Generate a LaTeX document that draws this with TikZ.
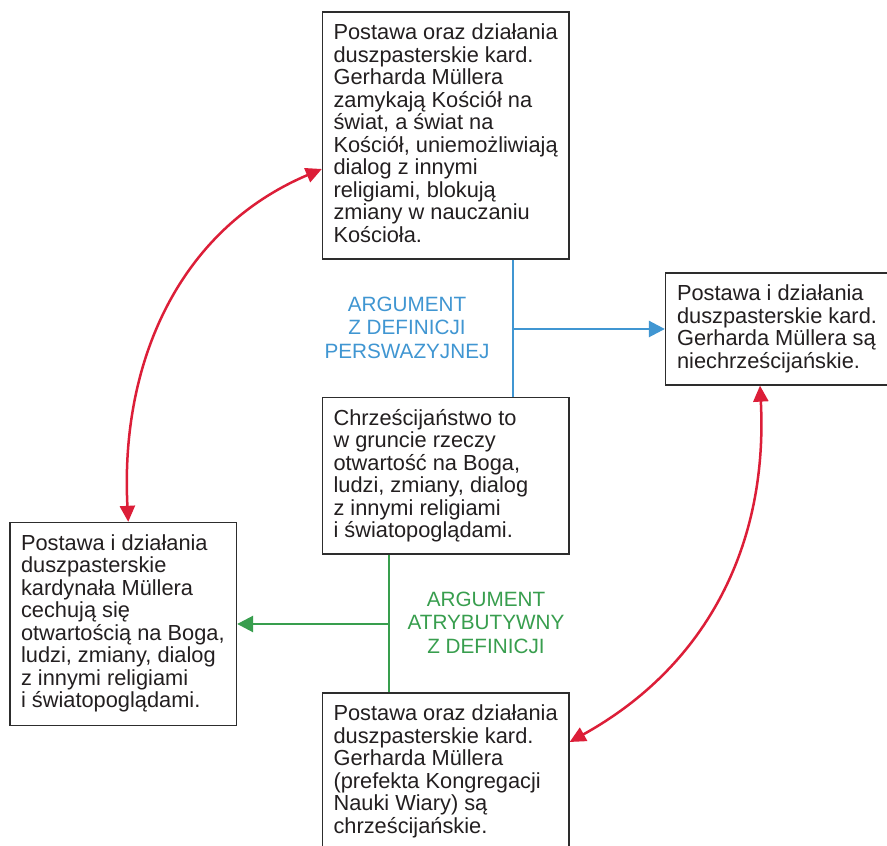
\documentclass[tikz,border=0pt]{standalone}
\usepackage{fontspec}
\setmainfont{Liberation Sans}
\usetikzlibrary{arrows.meta,calc}
\definecolor{cblue}{RGB}{64,150,210}
\definecolor{cgreen}{RGB}{56,158,78}
\definecolor{cred}{RGB}{220,30,56}
\definecolor{ctext}{RGB}{35,31,32}
\definecolor{cbox}{RGB}{45,45,45}
\begin{document}
\begin{tikzpicture}[x=1pt,y=1pt,
  boxnode/.style={draw=cbox,line width=1.3pt,inner sep=0pt},
  txt/.style={anchor=north west,inner sep=0pt,align=left,text=ctext,font=\fontsize{21.8}{22.5}\selectfont},
  lbl/.style={anchor=north,inner sep=0pt,align=center,font=\fontsize{20.7}{23.7}\selectfont},
  bluelink/.style={draw=cblue,line width=2.6pt},
  greenlink/.style={draw=cgreen,line width=2.6pt},
  redlink/.style={draw=cred,line width=2.5pt,{Triangle[length=16pt,width=15pt]}-{Triangle[length=16pt,width=15pt]}},
  tip/.style={-{Triangle[length=16pt,width=16pt]}}
]
\useasboundingbox (0,0) rectangle (887,846);
\fill[white] (0,0) rectangle (887,846);
\clip (0,0) rectangle (887,846);

% boxes
\node[boxnode,minimum width=246.5pt,minimum height=247pt] (top) at (445.75,710.5) {};
\node[boxnode,minimum width=234.5pt,minimum height=112pt] (right) at (782.75,517) {};
\node[boxnode,minimum width=246.5pt,minimum height=156.5pt] (mid) at (445.75,370.25) {};
\node[boxnode,minimum width=226.5pt,minimum height=203pt] (left) at (123.25,222) {};
\node[boxnode,minimum width=246.5pt,minimum height=177pt] (bot) at (445.75,64.5) {};

% texts
\node[txt] (toptxt) at ([shift={(11.5,-11)}]top.north west) {\rule{0pt}{17pt}Postawa oraz działania\\duszpasterskie kard.\\Gerharda Müllera\\zamykają Kościół na\\świat, a świat na\\Kościół, uniemożliwiają\\dialog z innymi\\religiami, blokują\\zmiany w nauczaniu\\Kościoła.};
\node[txt] (righttxt) at ([shift={(12,-11)}]right.north west) {\rule{0pt}{17pt}Postawa i działania\\duszpasterskie kard.\\Gerharda Müllera są\\niechrześcijańskie.};
\node[txt] (midtxt) at ([shift={(11.5,-11)}]mid.north west) {\rule{0pt}{17pt}Chrześcijaństwo to\\w gruncie rzeczy\\otwartość na Boga,\\ludzi, zmiany, dialog\\z innymi religiami\\i światopoglądami.};
\node[txt] (lefttxt) at ([shift={(11.5,-11)}]left.north west) {\rule{0pt}{17pt}Postawa i działania\\duszpasterskie\\kardynała Müllera\\cechują się\\otwartością na Boga,\\ludzi, zmiany, dialog\\z innymi religiami\\i światopoglądami.};
\node[txt] (bottxt) at ([shift={(11.5,-11)}]bot.north west) {\rule{0pt}{17pt}Postawa oraz działania\\duszpasterskie kard.\\Gerharda Müllera\\(prefekta Kongregacji\\Nauki Wiary) są\\chrześcijańskie.};

% labels
\node[lbl,text=cblue] (bluelbl) at (407,551) {\rule{0pt}{16pt}ARGUMENT\\Z DEFINICJI\\PERSWAZYJNEJ};
\node[lbl,text=cgreen] (greenlbl) at (486,256) {\rule{0pt}{16pt}ARGUMENT\\ATRYBUTYWNY\\Z DEFINICJI};

% blue connector
\coordinate (bj) at (513,517);
\draw[bluelink] (top.south -| bj) -- (mid.north -| bj);
\draw[bluelink,tip] (bj) -- (right.west);

% green connector
\coordinate (gj) at (389,222);
\draw[greenlink] (mid.south -| gj) -- (bot.north -| gj);
\draw[greenlink,tip] (gj) -- (left.east);

% red curves
\draw[redlink] ([xshift=5pt]left.north) to[out=93,in=203] ([yshift=-33.5pt]top.west);
\draw[redlink] ([xshift=-22.75pt]right.south) to[out=-87,in=29] ([yshift=39.5pt]bot.east);
\end{tikzpicture}
\end{document}
